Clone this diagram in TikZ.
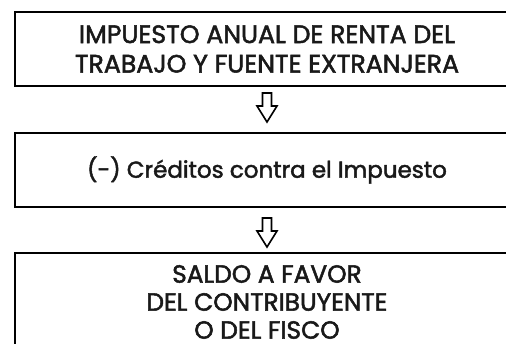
\documentclass[tikz,border=0pt]{standalone}
\usepackage{fontspec}
\setmainfont{Poppins}[FakeBold=2.0]
\usetikzlibrary{calc}
\tikzset{
  box/.style={draw=black, line width=2pt, minimum width=504pt, inner sep=0pt, align=center, font=\fontsize{25.2}{29.5}\selectfont, text=black!90},
  blockarrow/.style={draw=black, line width=1.6pt, fill=white, line join=miter},
}
\begin{document}
\begin{tikzpicture}[x=1pt,y=-1pt]
\useasboundingbox (0,0) rectangle (506,344);
\node[box, minimum height=74pt] (b1) at (267,49) {IMPUESTO ANUAL DE RENTA DEL\\TRABAJO Y FUENTE EXTRANJERA};
\node[box, minimum height=74pt, font=\fontsize{23}{28}\selectfont] (b2) at (267,170) {(-) Créditos contra el Impuesto};
\node[box, minimum height=98pt, font=\fontsize{24.8}{28}\selectfont] (b3) at (267,302) {SALDO A FAVOR\\DEL CONTRIBUYENTE\\O DEL FISCO};
\draw[blockarrow] let \p1=($(b1.south)+(0,6)$), \p2=($(b2.north)+(0,-10)$) in
  (\x1-4.5,\y1) -- (\x1+4.5,\y1) -- (\x1+4.5,\y1-13) -- (\x1+10,\y1-13) -- (\x1,\y2) -- (\x1-10,\y1-13) -- (\x1-4.5,\y1-13) -- cycle;
\draw[blockarrow] let \p1=($(b2.south)+(0,10)$), \p2=($(b3.north)+(0,-5)$) in
  (\x1-4.5,\y1) -- (\x1+4.5,\y1) -- (\x1+4.5,\y1-13) -- (\x1+10,\y1-13) -- (\x1,\y2) -- (\x1-10,\y1-13) -- (\x1-4.5,\y1-13) -- cycle;
\end{tikzpicture}
\end{document}
